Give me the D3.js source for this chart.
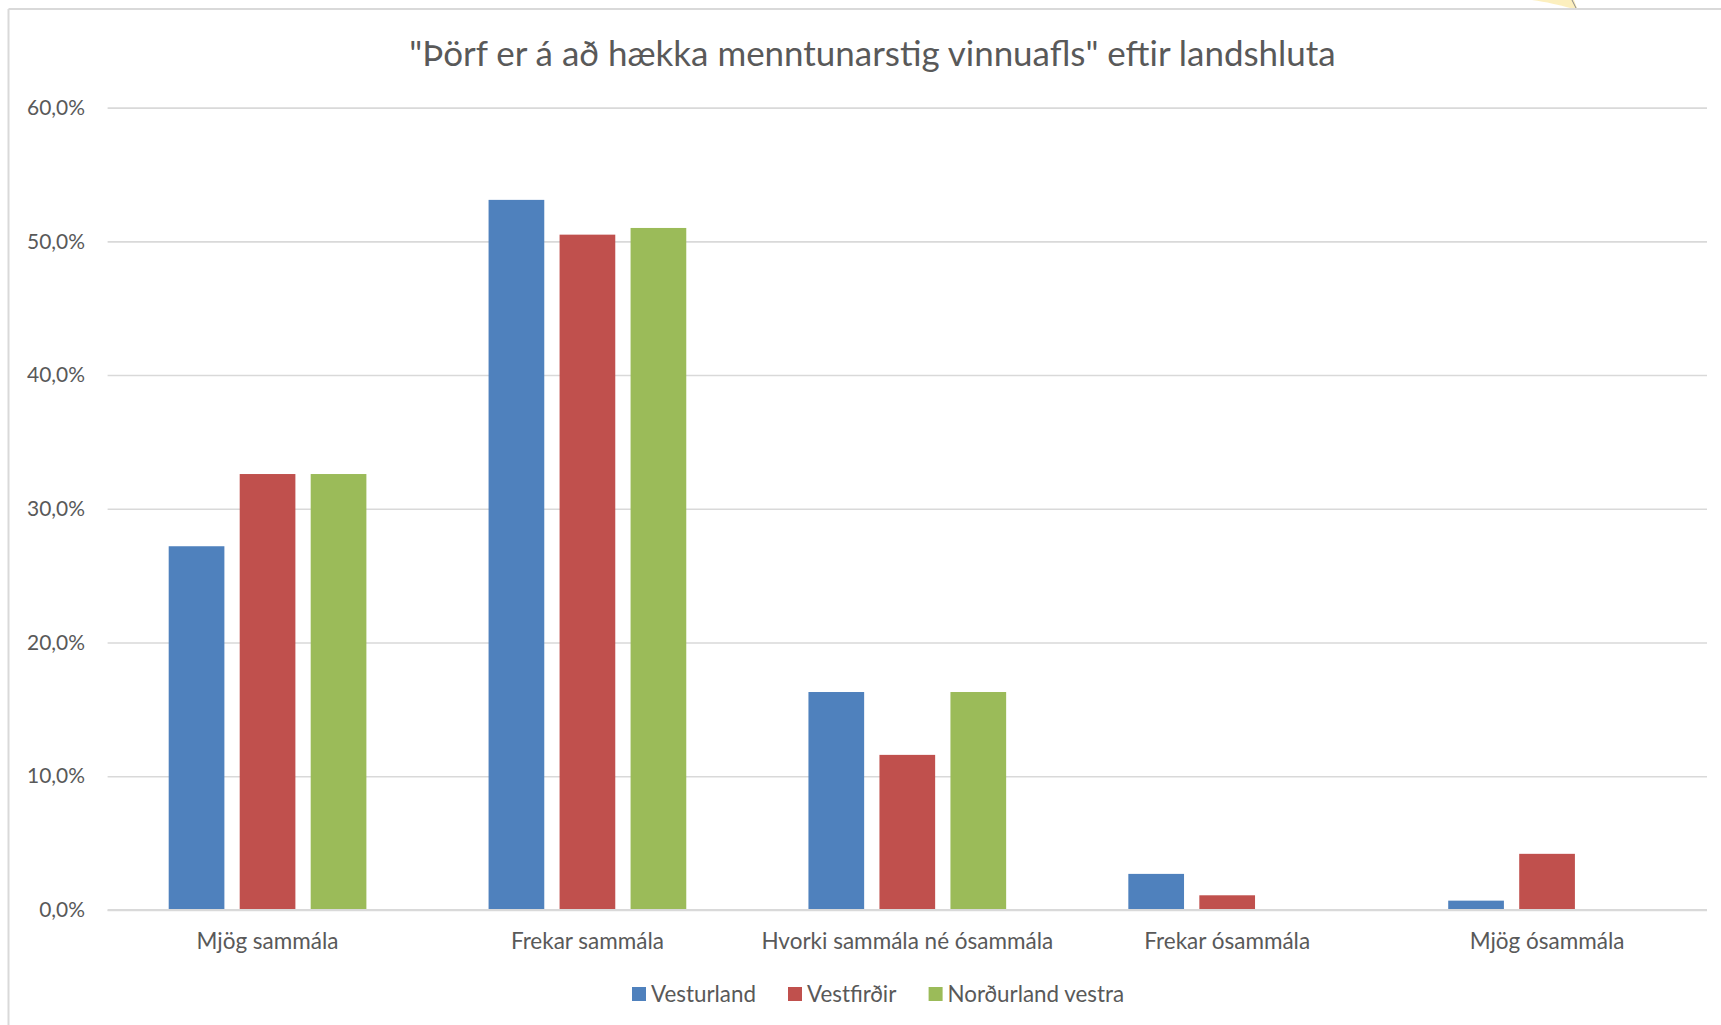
<!DOCTYPE html>
<html>
<head>
<meta charset="utf-8">
<script src="https://cdn.jsdelivr.net/npm/d3@7"></script>
<style>
  html, body { margin: 0; padding: 0; background: #ffffff; }
  svg { display: block; }
  text { font-family: Lato, "Open Sans", "Noto Sans", sans-serif; fill: #595959; }
</style>
</head>
<body>
<svg id="chart" width="1721" height="1025"></svg>
<script>
// ---- data ----
const title = "\"Þörf er á að hækka menntunarstig vinnuafls\" eftir landshluta";
const categories = ["Mjög sammála", "Frekar sammála", "Hvorki sammála né ósammála", "Frekar ósammála", "Mjög ósammála"];
const seriesNames = ["Vesturland", "Vestfirðir", "Norðurland vestra"];
const vesturland = [27.2, 53.1, 16.3, 2.7, 0.7];
const vestfirdir = [32.6, 50.5, 11.6, 1.1, 4.2];
const nordurlandVestra = [32.6, 51.0, 16.3, 0, 0];
const yTicks = [0, 10, 20, 30, 40, 50, 60];
const seriesColors = ["#4f81bd", "#c0504d", "#9bbb59"];

const seriesValues = [vesturland, vestfirdir, nordurlandVestra];

// ---- layout ----
const W = 1721, H = 1025;
const plot = { left: 107.6, right: 1707, top: 107.6, bottom: 910 };
const svg = d3.select("#chart");

// fit a text element's font size to a target width
function fitSize(sample, target, base) {
  const t = svg.append("text").attr("font-size", base).text(sample);
  const w = t.node().getComputedTextLength();
  t.remove();
  return base * target / w;
}
const titleSize = fitSize(title, 927, 30);
const tickSize = fitSize("60,0%", 58, 20);
const catSize = fitSize("Mjög sammála", 142, 20);
const legSize = fitSize("Vesturland", 105, 20);

// chart frame (partial, as in the reference crop)
svg.append("line").attr("x1", 8.5).attr("x2", W).attr("y1", 9).attr("y2", 9)
  .attr("stroke", "#d9d9d9").attr("stroke-width", 2);
svg.append("line").attr("x1", 8.5).attr("x2", 8.5).attr("y1", 9).attr("y2", H)
  .attr("stroke", "#d9d9d9").attr("stroke-width", 2);

// small decoration peeking at the top right
svg.append("path")
  .attr("d", "M1532,0 L1574,0 L1577,8 L1570,8 C1560,5 1546,2 1532,0 Z")
  .attr("fill", "#fbe9a8").attr("opacity", 0.75);
svg.append("line").attr("x1", 1572).attr("y1", 0).attr("x2", 1576).attr("y2", 8)
  .attr("stroke", "#8a8a8a").attr("stroke-width", 1);

// scales
const x0 = d3.scaleBand().domain(categories).range([plot.left, plot.right]).padding(0);
const groupWidth = 197.7;
const x1 = d3.scaleBand().domain(seriesNames).range([0, groupWidth]).paddingInner(0.2155).paddingOuter(0);
const y = d3.scaleLinear().domain([0, 60]).range([plot.bottom, plot.top]);

const locale = d3.formatLocale({ decimal: ",", thousands: ".", grouping: [3], currency: ["", " kr."] });
const fmt = locale.format(".1f");

// grid + y axis
const yAxis = d3.axisLeft(y).tickValues(yTicks).tickSize(-(plot.right - plot.left)).tickFormat(d => fmt(d) + "%");
const gy = svg.append("g").attr("transform", `translate(${plot.left},0)`).call(yAxis);
gy.select(".domain").remove();
gy.selectAll(".tick line").attr("stroke", "#d9d9d9").attr("stroke-width", 1.6);
gy.selectAll(".tick text").attr("x", -22.6).attr("font-size", tickSize)
  .attr("fill", "#595959").attr("font-family", "Lato, 'Open Sans', sans-serif");

// bars
const groups = svg.append("g").selectAll("g").data(categories).join("g")
  .attr("transform", d => `translate(${x0(d) + (x0.bandwidth() - groupWidth) / 2},0)`);
groups.selectAll("rect").data((c, ci) => seriesNames.map((s, si) => ({ s, si, v: seriesValues[si][ci] })))
  .join("rect")
  .attr("x", d => x1(d.s))
  .attr("width", x1.bandwidth())
  .attr("y", d => y(d.v))
  .attr("height", d => y(0) - y(d.v))
  .attr("fill", d => seriesColors[d.si]);

// zero line on top
svg.append("line").attr("x1", plot.left).attr("x2", plot.right).attr("y1", y(0)).attr("y2", y(0))
  .attr("stroke", "#d9d9d9").attr("stroke-width", 1.8);

// x axis labels
const xAxis = d3.axisBottom(x0).tickSize(0).tickPadding(0);
const gx = svg.append("g").attr("transform", `translate(0,${plot.bottom})`).call(xAxis);
gx.select(".domain").remove();
gx.selectAll(".tick text").attr("dy", null).attr("y", 39).attr("font-size", catSize)
  .attr("fill", "#595959").attr("font-family", "Lato, 'Open Sans', sans-serif");

// title
svg.append("text").attr("x", 872.5).attr("y", 66).attr("text-anchor", "middle")
  .attr("font-size", titleSize).text(title);

// legend
const legendX = [632, 788, 928.6];
const leg = svg.append("g").selectAll("g").data(seriesNames).join("g")
  .attr("transform", (d, i) => `translate(${legendX[i]},987)`);
leg.append("rect").attr("width", 14).attr("height", 14).attr("fill", (d, i) => seriesColors[i]);
leg.append("text").attr("x", 19).attr("y", 15).attr("font-size", legSize).text(d => d);
</script>
</body>
</html>
